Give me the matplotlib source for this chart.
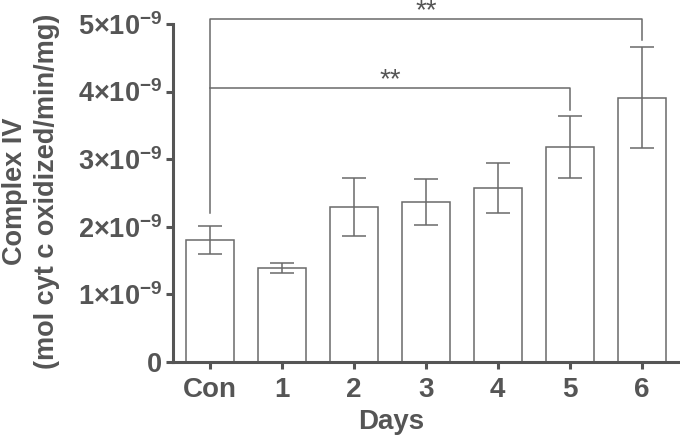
import matplotlib
matplotlib.use("Agg")
import matplotlib.pyplot as plt
import numpy as np

# values (units of 1e-9 mol cyt c oxidized/min/mg)
days = ["Con", "1", "2", "3", "4", "5", "6"]
means = [1.80, 1.385, 2.29, 2.37, 2.58, 3.18, 3.91]
errs = [0.205, 0.075, 0.425, 0.34, 0.37, 0.465, 0.745]
scale = 1e-9

# significance brackets: (left, right, height, left drop, right drop, label)
brackets = [
    (0, 5, 4.05, 4.05, 3.73, "**"),
    (0, 6, 5.07, 2.20, 4.76, "**"),
]

grey = "#555555"
edge = "#6a6a6a"

plt.rcParams['font.family'] = ['Liberation Sans', 'DejaVu Sans']
plt.rcParams['mathtext.fontset'] = 'custom'
plt.rcParams['mathtext.rm'] = 'Liberation Sans:bold'
plt.rcParams['mathtext.it'] = 'Liberation Sans:bold'
plt.rcParams['mathtext.bf'] = 'Liberation Sans:bold'

fig = plt.figure(figsize=(6.8, 4.37), dpi=100)
ax = fig.add_axes([173 / 680, 1 - 362 / 437, 1 - 173 / 680, (362 - 24) / 437])

x = np.arange(len(days))
vals = np.array(means) * scale
ax.bar(x, vals, width=0.667, color="white", edgecolor=edge, linewidth=1.1, zorder=2)
ax.errorbar(x, vals, yerr=np.array(errs) * scale, fmt="none", ecolor=edge,
            elinewidth=1.1, capsize=8.5, capthick=1.1, zorder=3)

for x0, x1, h, d0, d1, lab in brackets:
    ax.plot([x0, x0, x1, x1], [d0 * scale, h * scale, h * scale, d1 * scale],
            color=edge, lw=1.1, clip_on=False, zorder=4)
    ax.text((x0 + x1) / 2, h * scale + 0.02 * scale, lab, ha="center", va="baseline",
            fontsize=20, color=grey, clip_on=False)

ax.set_xlim(-0.51, 6.53)
ax.set_ylim(0, 5 * scale)
ax.set_xticks(x)
ax.set_xticklabels(days)
yt = np.arange(0, 6)
ax.set_yticks(yt * scale)
ax.set_yticklabels(["0"] + [f"{i}×10$^{{-9}}$" for i in yt[1:]])

for sp in ["top", "right"]:
    ax.spines[sp].set_visible(False)
for sp in ["left", "bottom"]:
    ax.spines[sp].set_color(grey)
    ax.spines[sp].set_linewidth(2.2)

ax.tick_params(axis="both", colors=grey, width=2.2, length=5)
ax.tick_params(axis="x", labelsize=20, pad=6)
ax.tick_params(axis="y", labelsize=19.5, pad=3)
for lbl in ax.get_xticklabels() + ax.get_yticklabels():
    lbl.set_fontweight("bold")

# axis titles placed where the reference has them
fig.text(391 / 680, 1 - 429 / 437, "Days", fontsize=20, fontweight="bold",
         color=grey, ha="center", va="baseline")
fig.text(31 / 680, 1 - 191 / 437, "Complex IV\n(mol cyt c oxidized/min/mg)",
         fontsize=19.5, fontweight="bold", color=grey, rotation=90,
         ha="center", va="center", multialignment="center", linespacing=1.3)

fig.savefig("out.png", dpi=100)
